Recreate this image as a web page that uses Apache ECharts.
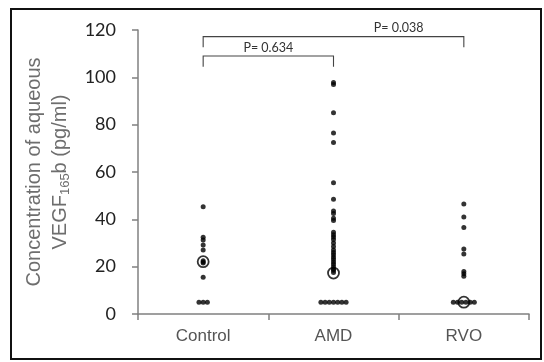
<!DOCTYPE html>
<html>
<head>
<meta charset="utf-8">
<script src="https://cdn.jsdelivr.net/npm/echarts@6/dist/echarts.min.js"></script>
<style>html,body{margin:0;padding:0;background:#fff;}#c{width:544px;height:362px;}</style>
</head>
<body>
<div id="c"></div>
<script>
var categories = ['Control', 'AMD', 'RVO'];
var controlValues = [45.3, 32.4, 31.3, 29.2, 27, 22.5, 22, 21.5, 15.5, 5, 5, 5];
var amdValues = [97.8, 97, 85, 76.5, 72.5, 55.5, 48.5, 43.5, 42.5, 40.5, 39.5, 34.5, 33.5, 32.5, 31.5, 30, 28.5, 27, 26, 25, 24, 23, 22, 21, 20, 19, 18.5, 17.5, 5, 5, 5, 5, 5, 5, 5];
var rvoValues = [46.5, 41, 36.5, 27.5, 25.3, 18, 17, 16, 5, 5, 5, 5, 5, 5];
var medianValues = [22.1, 17.3, 5];
var yMin = 0, yMax = 120, yStep = 20;
var comparisonPairs = [[0, 1], [0, 2]];
var pLabels = ['P= 0.634', 'P= 0.038'];

// annotation layout (not data)
var bracketLevels = [109, 117.2];
var bracketDrop = 4.5;
var labelAt = [0.5, 1.5];
var dotSpacing = 4.2;

function buildPoints(values, ci) {
  var counts = {}, seen = {};
  values.forEach(function (v) { counts[v] = (counts[v] || 0) + 1; });
  return values.map(function (v) {
    var n = counts[v];
    var k = seen[v] || 0; seen[v] = k + 1;
    var off = (k - (n - 1) / 2) * dotSpacing;
    return { value: [ci, v], symbolOffset: [off, 0] };
  });
}
var allGroups = [controlValues, amdValues, rvoValues];
var dotSeries = allGroups.map(function (vals, ci) {
  return {
    type: 'scatter', data: buildPoints(vals, ci), symbol: 'circle', symbolSize: 5,
    itemStyle: { color: '#000' }, silent: true, z: 3
  };
});

var chart = echarts.init(document.getElementById('c'), null, { renderer: 'canvas' });
chart.setOption({
  animation: false,
  backgroundColor: '#fff',
  graphic: [{
    type: 'rect', shape: { x: 11, y: 9, width: 530, height: 350 },
    style: { fill: 'none', stroke: '#111', lineWidth: 2 }, z: 0
  }],
  grid: { left: 138, right: 15, top: 30, bottom: 48 },
  xAxis: {
    type: 'category', data: categories, boundaryGap: true,
    axisLine: { lineStyle: { color: '#808080', width: 1.5 } },
    axisTick: { show: true, length: 6, inside: false, lineStyle: { color: '#808080', width: 1.5 } },
    axisLabel: { color: '#555', fontFamily: 'Liberation Sans', fontSize: 17, margin: 14 }
  },
  yAxis: {
    type: 'value', min: yMin, max: yMax, interval: yStep,
    splitLine: { show: false },
    axisLine: { show: true, lineStyle: { color: '#808080', width: 1.5 } },
    axisTick: { show: true, length: 6, lineStyle: { color: '#808080', width: 1.5 } },
    axisLabel: { color: '#222', fontFamily: 'Lato', fontSize: 18, margin: 22 },
    name: 'Concentration of aqueous\n{a|VEGF}{s|165}{a|b (pg/ml)}',
    nameLocation: 'middle', nameGap: 56, nameRotate: 90,
    nameTextStyle: {
      color: '#6e6e6e', fontFamily: 'Liberation Sans', fontSize: 20, lineHeight: 26,
      rich: {
        a: { color: '#6e6e6e', fontFamily: 'Liberation Sans', fontSize: 20, lineHeight: 26 },
        s: { color: '#6e6e6e', fontFamily: 'Liberation Sans', fontSize: 13, lineHeight: 26, padding: [10, 0, 0, 0] }
      }
    }
  },
  series: dotSeries.concat([
    {
      type: 'scatter', data: medianValues.map(function (v, i) { return [i, v]; }),
      symbol: 'circle', symbolSize: 11, silent: true, z: 4,
      itemStyle: { color: 'rgba(0,0,0,0)', borderColor: '#000', borderWidth: 1.8 }
    },
    {
      type: 'custom', silent: true, z: 5, clip: false,
      data: comparisonPairs.map(function (p, i) { return [p[0], p[1], i]; }),
      renderItem: function (params, api) {
        var from = api.value(0), to = api.value(1), i = api.value(2);
        var lvl = bracketLevels[i];
        var a = api.coord([from, lvl]), b = api.coord([to, lvl]);
        var a2 = api.coord([from, lvl - bracketDrop]);
        var c0 = api.coord([Math.floor(labelAt[i]), lvl]);
        var c1 = api.coord([Math.ceil(labelAt[i]), lvl]);
        var lx = c0[0] + (c1[0] - c0[0]) * (labelAt[i] - Math.floor(labelAt[i]));
        var st = { stroke: '#444', lineWidth: 1.1, fill: 'none' };
        return {
          type: 'group', children: [
            { type: 'polyline', shape: { points: [[a[0], a2[1]], a, b, [b[0], a2[1]]] }, style: st },
            { type: 'text', style: { text: pLabels[i], x: lx, y: a[1] - 2, align: 'center', verticalAlign: 'bottom',
              fill: '#333', font: '12.5px Lato' } }
          ]
        };
      }
    }
  ])
});
</script>
</body>
</html>
